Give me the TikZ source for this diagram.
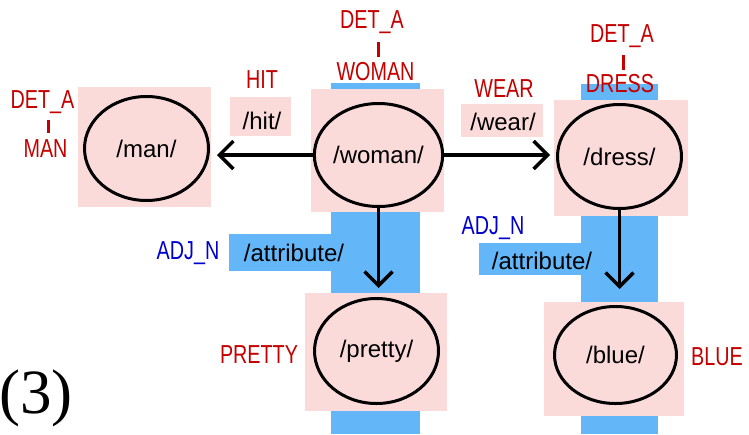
\documentclass[tikz,border=0pt]{standalone}
\usepackage{fontspec}
\setmainfont{Liberation Sans}
\newfontfamily\labfont[FakeStretch=0.76]{Liberation Sans}
\newfontfamily\numfont{Liberation Serif}
\usetikzlibrary{shapes.geometric,arrows.meta}
\definecolor{pinkc}{RGB}{251,218,218}
\definecolor{bandc}{RGB}{99,182,247}
\definecolor{redc}{RGB}{196,0,0}
\definecolor{labbluec}{RGB}{0,0,204}
\tikzset{
  pinkbox/.style={fill=pinkc},
  bandbox/.style={fill=bandc},
  concept/.style={ellipse, draw, line width=3pt, inner sep=0pt, font={\fontsize{24}{28}\selectfont}},
  redlab/.style={text=redc, inner sep=0pt, font={\labfont\fontsize{26}{30}\selectfont}},
  bluelab/.style={text=labbluec, inner sep=0pt, font={\labfont\fontsize{26}{30}\selectfont}},
  gloss/.style={inner sep=0pt, font={\fontsize{24}{28}\selectfont}},
  arr/.style={line width=3.5pt, -{Straight Barb[length=14pt,width=28pt]}},
  tick/.style={draw=redc, line width=3pt}
}
\begin{document}
\begin{tikzpicture}[x=1pt,y=-1pt]
\useasboundingbox (0,0) rectangle (749,434);
% blue bands
\fill[bandbox] (331,83) rectangle (420,434);
\fill[bandbox] (229,234) rectangle (331,271);
\fill[bandbox] (581,84) rectangle (658,434);
\fill[bandbox] (479,243) rectangle (581,275);
% pink boxes
\fill[pinkbox] (78,87) rectangle (211,207);
\fill[pinkbox] (230,97) rectangle (291,136);
\fill[pinkbox] (311,89) rectangle (444,212);
\fill[pinkbox] (461,104) rectangle (543,137);
\fill[pinkbox] (554,100) rectangle (688,216);
\fill[pinkbox] (305,293) rectangle (447,411);
\fill[pinkbox] (544,302) rectangle (684,416);
% concept ellipses
\node[concept, minimum width=124pt, minimum height=104pt] (man) at (146.5,148.5) {/man/};
\node[concept, minimum width=124pt, minimum height=103pt] (woman) at (378.5,155) {/woman/};
\node[concept, minimum width=124pt, minimum height=104pt] (dress) at (619.5,156.5) {/dress/};
\node[concept, minimum width=124pt, minimum height=105pt] (pretty) at (376.5,351) {/pretty/};
\node[concept, minimum width=122pt, minimum height=97pt] (blue) at (615.5,355) {/blue/};
% arrows
\draw[arr, shorten >=7pt] (woman.west) -- (woman.west -| man.east);
\draw[arr, shorten >=6pt] (woman.east) -- (woman.east -| dress.west);
\draw[arr, shorten >=9pt] (woman.south) -- (woman.south |- pretty.north);
\draw[arr, shorten >=16pt] (dress.south) -- (dress.south |- blue.north);
% relation glosses
\node[gloss] (hit) at (262,121) {/hit/};
\node[gloss] (wear) at (503,122) {/wear/};
\node[gloss] (attrL) at (294,253) {/attribute/};
\node[gloss] (attrR) at (542,261) {/attribute/};
% red labels
\node[redlab] (detman) at (42.5,102.5) {DET\_A};
\node[redlab] (manlab) at (45.5,148.5) {MAN};
\coordinate (tkmanA) at (48,120);
\coordinate (tkmanB) at (48,133);
\draw[tick] (tkmanA) -- (tkmanB);
\node[redlab] (detwoman) at (372,22) {DET\_A};
\node[redlab] (womanlab) at (375.5,71.5) {WOMAN};
\coordinate (tkwomA) at (378,42);
\coordinate (tkwomB) at (378,57);
\draw[tick] (tkwomA) -- (tkwomB);
\node[redlab] (detdress) at (622,36.5) {DET\_A};
\node[redlab] (dresslab) at (620,84) {DRESS};
\coordinate (tkdrA) at (623,55);
\coordinate (tkdrB) at (623,70);
\draw[tick] (tkdrA) -- (tkdrB);
\node[redlab] (hitlab) at (262,80) {HIT};
\node[redlab] (wearlab) at (504,89) {WEAR};
\node[redlab] (prettylab) at (259,355) {PRETTY};
\node[redlab] (bluelabel) at (717,357) {BLUE};
% blue labels
\node[bluelab] (adjL) at (188,253) {ADJ\_N};
\node[bluelab] (adjR) at (493,228) {ADJ\_N};
% example number
\node[anchor=base east, inner sep=0pt, font={\numfont\fontsize{63}{68}\selectfont}] (num) at (73,413) {(3)};
\end{tikzpicture}
\end{document}
